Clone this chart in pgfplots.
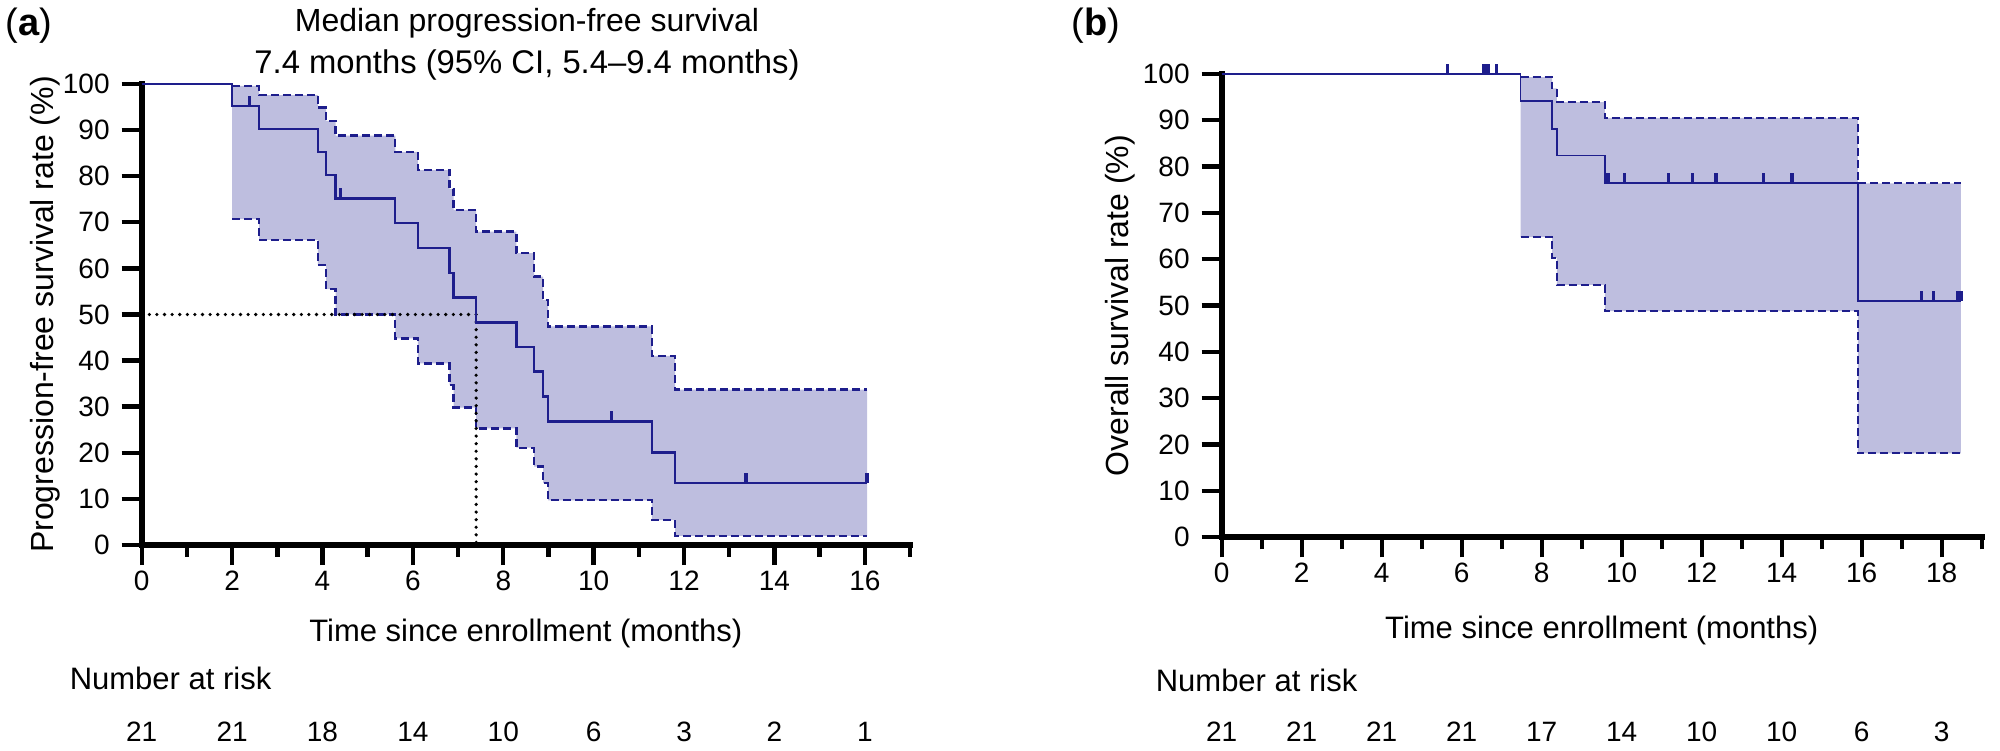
\documentclass[border=0pt]{standalone}
\usepackage{fontspec}
\setmainfont{Liberation Sans}
\usepackage{pgfplots}
\usepackage{pgfplotstable}
\pgfplotsset{compat=1.18}
\usepgfplotslibrary{fillbetween}

\definecolor{kmline}{RGB}{30,30,140}
\definecolor{kmfill}{RGB}{190,190,223}

% censoring mark: a short upright stroke sitting on the curve
\pgfdeclareplotmark{cens}{%
  \pgfpathmoveto{\pgfpoint{0pt}{0pt}}%
  \pgfpathlineto{\pgfpoint{0pt}{\pgfplotmarksize}}%
  \pgfusepathqstroke}

% ---------- (a) progression-free survival ----------
\pgfplotstableread{
t     s
0     100
2.00  95.2
2.60  90.2
3.90  85.2
4.08  80.2
4.29  75.2
5.61  69.8
6.11  64.4
6.81  59.0
6.90  53.7
7.40  48.3
8.29  42.9
8.68  37.6
8.88  32.2
8.99  26.8
11.29 20.1
11.80 13.4
16.05 13.4
}\pfsKM

\pgfplotstableread{
t     u     l
2.00  99.6  70.7
2.60  97.6  66.2
3.90  94.9  60.7
4.08  92.0  55.5
4.29  88.8  50.0
5.61  85.3  44.8
6.11  81.3  39.4
6.81  77.2  34.7
6.90  72.7  29.8
7.40  68.0  25.3
8.29  63.3  21.1
8.68  58.2  17.0
8.88  53.1  13.4
8.99  47.4  9.7
11.29 41.0  5.4
11.80 33.7  2.0
16.05 33.7  2.0
}\pfsCI

\pgfplotstableread{
t     s
2.39  95.2
4.40  75.2
10.39 26.8
13.37 13.4
16.05 13.4
}\pfsCens

% ---------- (b) overall survival ----------
\pgfplotstableread{
t     s
0     100
7.47  94.1
8.26  88.2
8.38  82.4
9.58  76.5
15.90 51.0
18.48 51.0
}\osKM

\pgfplotstableread{
t     u     l
7.47  99.3  64.8
8.26  96.9  60.3
8.38  93.9  54.5
9.58  90.5  48.8
15.90 76.4  18.1
18.48 76.4  18.1
}\osCI

\pgfplotstableread{
t     s
5.65  100
6.56  100
6.66  100
6.87  100
9.60  76.5
9.66  76.5
10.07 76.5
11.17 76.5
11.77 76.5
12.36 76.5
13.55 76.5
14.26 76.5
17.50 51.0
17.79 51.0
18.40 51.0
18.48 51.0
}\osCens

\pgfplotsset{
  kmaxis/.style={
    scale only axis, clip=false,
    axis lines=left,
    axis line style={-, line width=1.4pt, line cap=rect},
    ymin=0, ymax=100, ytick={0,10,...,100},
    tick align=outside,
    major tick length=5pt, minor tick length=3pt,
    tick style={black, line width=1.1pt},
    minor tick style={black, line width=1.1pt},
    tick label style={font=\fontsize{7}{8}\selectfont},
    xticklabel style={yshift=2pt},
    yticklabel style={xshift=0.5pt},
    /pgf/number format/assume math mode=true,
    xlabel style={font=\fontsize{7.75}{9}\selectfont},
    ylabel style={font=\fontsize{8}{9.5}\selectfont},
  },
  kmstep/.style={const plot, kmline, line width=0.6pt, no marks},
  kmci/.style={const plot, kmline, line width=0.6pt, dash pattern=on 2pt off 1pt, no marks},
  kmcens/.style={only marks, mark=cens, mark size=2.5pt, kmline, line width=0.85pt},
}
\tikzset{riskno/.style={font=\fontsize{7}{8}\selectfont, anchor=center, inner sep=0pt}}

\begin{document}
\begin{tikzpicture}
% overall frame of the figure
\path (0,0) rectangle (500pt,187.5pt);

% ---------------- panel (a) ----------------
\begin{axis}[kmaxis,
  at={(35.43pt,51.25pt)}, anchor=south west,
  width=192.08pt, height=115.25pt,
  xmin=0, xmax=17,
  xtick={0,2,...,16}, minor xtick={1,3,...,17},
  xlabel={Time since enrollment (months)},
  ylabel={Progression-free survival rate (\%)},
  xlabel style={at={(axis description cs:0.5,-0.1909)}, anchor=center},
  ylabel style={at={(axis description cs:-0.1259,0.5)}, anchor=center},
]
  \addplot[const plot, draw=none, name path=upA] table[x=t, y=u] {\pfsCI};
  \addplot[const plot, draw=none, name path=loA] table[x=t, y=l] {\pfsCI};
  \addplot[kmfill, draw=none] fill between[of=upA and loA];
  \addplot[kmci] table[x=t, y=u] {\pfsCI};
  \addplot[kmci] table[x=t, y=l] {\pfsCI};
  % median: 7.4 months at 50%
  \addplot[black, line width=0.9pt, dash pattern=on 0pt off 1.9pt, line cap=round]
    coordinates {(0,50) (7.4,50) (7.4,0)};
  \addplot[kmstep] table[x=t, y=s] {\pfsKM};
  \addplot[kmcens] table[x=t, y=s] {\pfsCens};

  % number at risk
  \node[riskno] at (axis cs:0,-40.6)  {21};
  \node[riskno] at (axis cs:2,-40.6)  {21};
  \node[riskno] at (axis cs:4,-40.6)  {18};
  \node[riskno] at (axis cs:6,-40.6)  {14};
  \node[riskno] at (axis cs:8,-40.6)  {10};
  \node[riskno] at (axis cs:10,-40.6) {6};
  \node[riskno] at (axis cs:12,-40.6) {3};
  \node[riskno] at (axis cs:14,-40.6) {2};
  \node[riskno] at (axis cs:16,-40.6) {1};
\end{axis}

% ---------------- panel (b) ----------------
\begin{axis}[kmaxis,
  at={(305.43pt,53.18pt)}, anchor=south west,
  width=190pt, height=115.83pt,
  xmin=0, xmax=19,
  xtick={0,2,...,18}, minor xtick={1,3,...,19},
  xlabel={Time since enrollment (months)},
  ylabel={Overall survival rate (\%)},
  xlabel style={at={(axis description cs:0.5,-0.2001)}, anchor=center},
  ylabel style={at={(axis description cs:-0.1338,0.5)}, anchor=center},
]
  \addplot[const plot, draw=none, name path=upB] table[x=t, y=u] {\osCI};
  \addplot[const plot, draw=none, name path=loB] table[x=t, y=l] {\osCI};
  \addplot[kmfill, draw=none] fill between[of=upB and loB];
  \addplot[kmci, line width=0.5pt] table[x=t, y=u] {\osCI};
  \addplot[kmci, line width=0.5pt] table[x=t, y=l] {\osCI};
  \addplot[kmstep, line width=0.45pt] table[x=t, y=s] {\osKM};
  \addplot[kmcens] table[x=t, y=s] {\osCens};

  % number at risk
  \node[riskno] at (axis cs:0,-42.0)  {21};
  \node[riskno] at (axis cs:2,-42.0)  {21};
  \node[riskno] at (axis cs:4,-42.0)  {21};
  \node[riskno] at (axis cs:6,-42.0)  {21};
  \node[riskno] at (axis cs:8,-42.0)  {17};
  \node[riskno] at (axis cs:10,-42.0) {14};
  \node[riskno] at (axis cs:12,-42.0) {10};
  \node[riskno] at (axis cs:14,-42.0) {10};
  \node[riskno] at (axis cs:16,-42.0) {6};
  \node[riskno] at (axis cs:18,-42.0) {3};
\end{axis}

% panel letters, title and risk-table headings
\node[anchor=west, font=\fontsize{9.5}{11}\selectfont, inner sep=0pt] at (1.25pt,181pt) {(\textbf{a})};
\node[anchor=west, font=\fontsize{9.5}{11}\selectfont, inner sep=0pt] at (267.75pt,181pt) {(\textbf{b})};
\node[anchor=base, font=\fontsize{8}{9.6}\selectfont, inner sep=0pt] at (131.75pt,179.5pt) {Median progression-free survival};
\node[anchor=base, font=\fontsize{8.2}{9.6}\selectfont, inner sep=0pt] at (131.75pt,169pt) {7.4 months (95\% CI, 5.4--9.4 months)};
\node[anchor=west, font=\fontsize{7.75}{9}\selectfont, inner sep=0pt] at (17.25pt,18pt) {Number at risk};
\node[anchor=west, font=\fontsize{7.75}{9}\selectfont, inner sep=0pt] at (288.75pt,17.5pt) {Number at risk};
\end{tikzpicture}
\end{document}
